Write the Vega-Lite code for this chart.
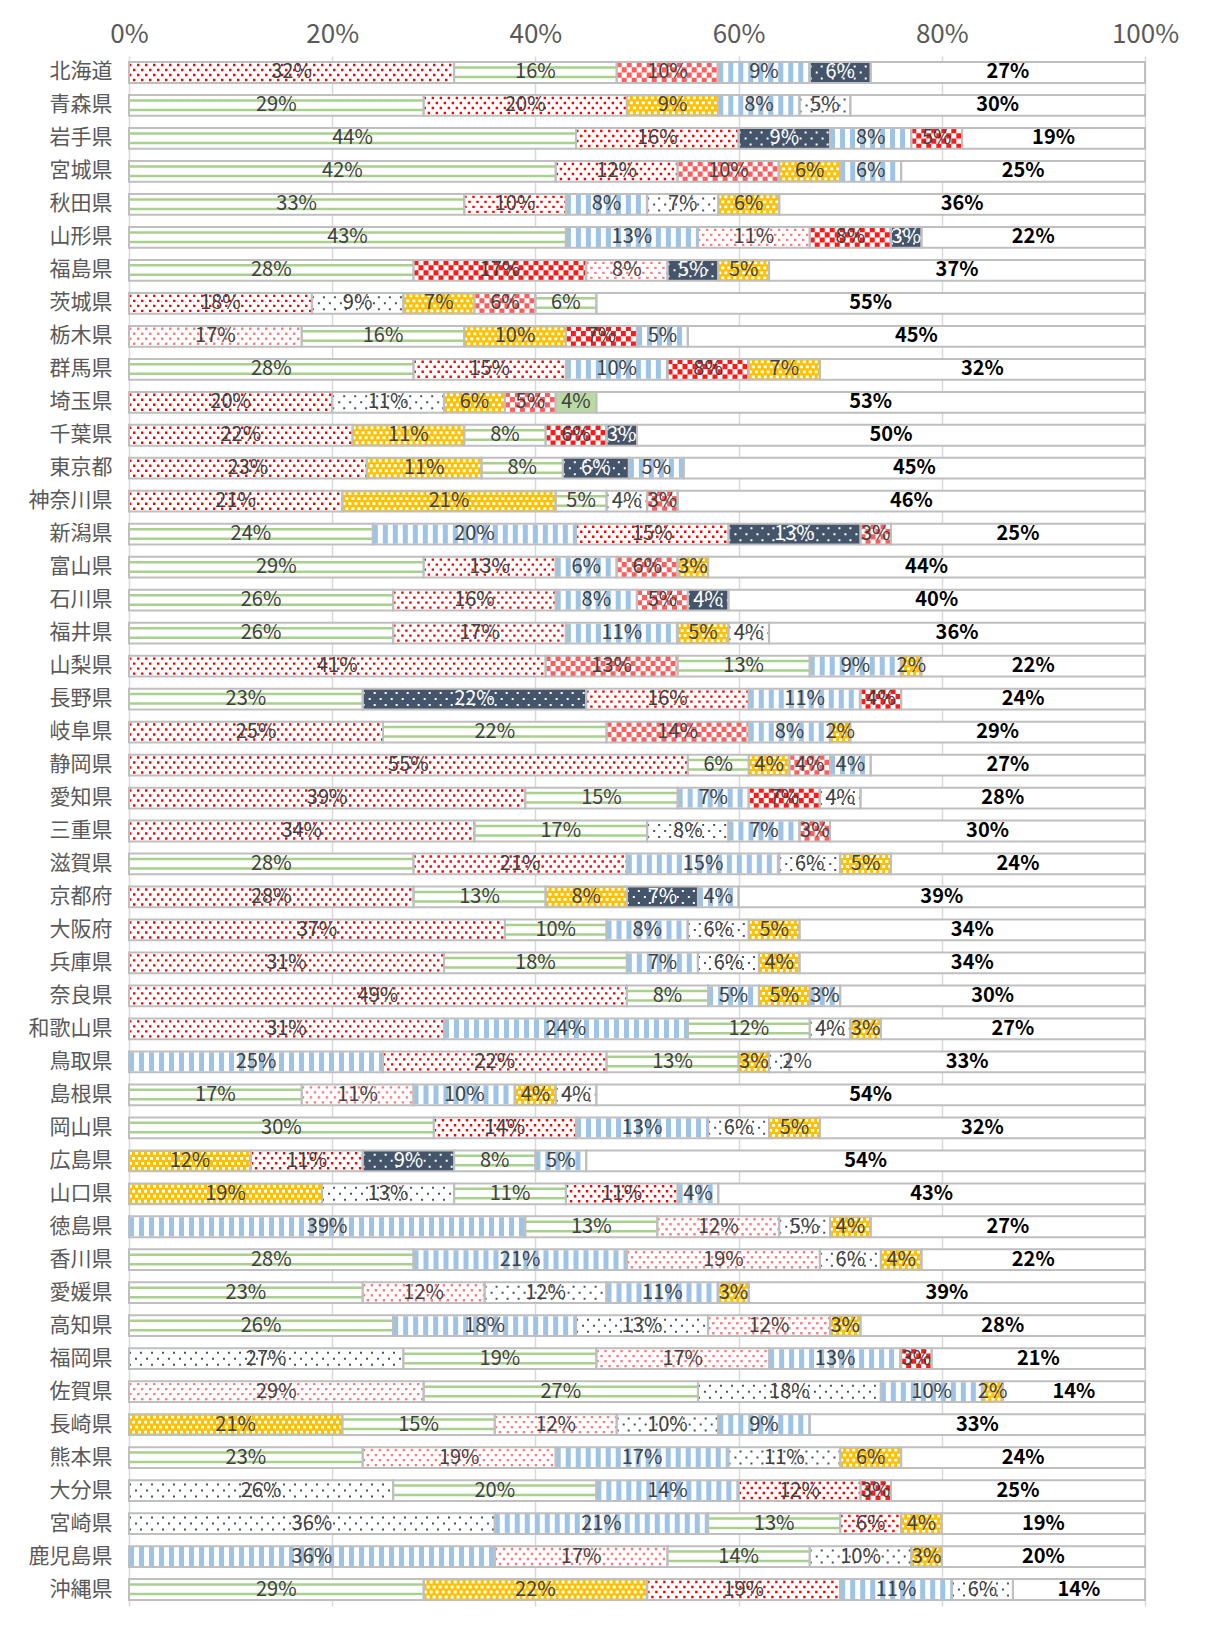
{
"$schema":"https://vega.github.io/schema/vega-lite/v6.json",
"autosize":{"type":"none"},
"padding":{"left":129,"top":56,"right":60,"bottom":23},
"width":1016,
"height":1550,
"background":"#ffffff",
"config":{"view":{"stroke":null},"font":"Noto Sans CJK JP",
 "axisX":{"grid":true,"gridColor":"#d9d9d9","gridWidth":1.5,"domain":false,"ticks":false,"labelFontSize":26,"labelColor":"#595959","labelPadding":9,"labelFlush":false,"labelFont":"Noto Sans CJK JP"},
 "axisY":{"grid":false,"domain":false,"ticks":false,"labelFontSize":21,"labelColor":"#595959","labelPadding":17,"labelFont":"Noto Sans CJK JP"}},
"data":{"values":[
{"p":"北海道","i":1,"k":"rd","v":0.32,"t":"32%"},{"p":"北海道","i":2,"k":"gs","v":0.16,"t":"16%"},{"p":"北海道","i":3,"k":"cl","v":0.10,"t":"10%"},{"p":"北海道","i":4,"k":"bs","v":0.09,"t":"9%"},{"p":"北海道","i":5,"k":"nv","v":0.06,"t":"6%"},{"p":"北海道","i":6,"k":"ot","v":0.27,"t":"27%"},
{"p":"青森県","i":1,"k":"gs","v":0.29,"t":"29%"},{"p":"青森県","i":2,"k":"rd","v":0.20,"t":"20%"},{"p":"青森県","i":3,"k":"yl","v":0.09,"t":"9%"},{"p":"青森県","i":4,"k":"bs","v":0.08,"t":"8%"},{"p":"青森県","i":5,"k":"wd","v":0.05,"t":"5%"},{"p":"青森県","i":6,"k":"ot","v":0.29,"t":"30%"},
{"p":"岩手県","i":1,"k":"gs","v":0.44,"t":"44%"},{"p":"岩手県","i":2,"k":"rd","v":0.16,"t":"16%"},{"p":"岩手県","i":3,"k":"nv","v":0.09,"t":"9%"},{"p":"岩手県","i":4,"k":"bs","v":0.08,"t":"8%"},{"p":"岩手県","i":5,"k":"ck","v":0.05,"t":"5%"},{"p":"岩手県","i":6,"k":"ot","v":0.18,"t":"19%"},
{"p":"宮城県","i":1,"k":"gs","v":0.42,"t":"42%"},{"p":"宮城県","i":2,"k":"rd","v":0.12,"t":"12%"},{"p":"宮城県","i":3,"k":"cl","v":0.10,"t":"10%"},{"p":"宮城県","i":4,"k":"yl","v":0.06,"t":"6%"},{"p":"宮城県","i":5,"k":"bs","v":0.06,"t":"6%"},{"p":"宮城県","i":6,"k":"ot","v":0.24,"t":"25%"},
{"p":"秋田県","i":1,"k":"gs","v":0.33,"t":"33%"},{"p":"秋田県","i":2,"k":"rd","v":0.10,"t":"10%"},{"p":"秋田県","i":3,"k":"bs","v":0.08,"t":"8%"},{"p":"秋田県","i":4,"k":"wd","v":0.07,"t":"7%"},{"p":"秋田県","i":5,"k":"yl","v":0.06,"t":"6%"},{"p":"秋田県","i":6,"k":"ot","v":0.36,"t":"36%"},
{"p":"山形県","i":1,"k":"gs","v":0.43,"t":"43%"},{"p":"山形県","i":2,"k":"bs","v":0.13,"t":"13%"},{"p":"山形県","i":3,"k":"rl","v":0.11,"t":"11%"},{"p":"山形県","i":4,"k":"ck","v":0.08,"t":"8%"},{"p":"山形県","i":5,"k":"nv","v":0.03,"t":"3%"},{"p":"山形県","i":6,"k":"ot","v":0.22,"t":"22%"},
{"p":"福島県","i":1,"k":"gs","v":0.28,"t":"28%"},{"p":"福島県","i":2,"k":"ck","v":0.17,"t":"17%"},{"p":"福島県","i":3,"k":"rl","v":0.08,"t":"8%"},{"p":"福島県","i":4,"k":"nv","v":0.05,"t":"5%"},{"p":"福島県","i":5,"k":"yl","v":0.05,"t":"5%"},{"p":"福島県","i":6,"k":"ot","v":0.37,"t":"37%"},
{"p":"茨城県","i":1,"k":"rd","v":0.18,"t":"18%"},{"p":"茨城県","i":2,"k":"wd","v":0.09,"t":"9%"},{"p":"茨城県","i":3,"k":"yl","v":0.07,"t":"7%"},{"p":"茨城県","i":4,"k":"cl","v":0.06,"t":"6%"},{"p":"茨城県","i":5,"k":"gs","v":0.06,"t":"6%"},{"p":"茨城県","i":6,"k":"ot","v":0.54,"t":"55%"},
{"p":"栃木県","i":1,"k":"rl","v":0.17,"t":"17%"},{"p":"栃木県","i":2,"k":"gs","v":0.16,"t":"16%"},{"p":"栃木県","i":3,"k":"yl","v":0.10,"t":"10%"},{"p":"栃木県","i":4,"k":"ck","v":0.07,"t":"7%"},{"p":"栃木県","i":5,"k":"bs","v":0.05,"t":"5%"},{"p":"栃木県","i":6,"k":"ot","v":0.45,"t":"45%"},
{"p":"群馬県","i":1,"k":"gs","v":0.28,"t":"28%"},{"p":"群馬県","i":2,"k":"rd","v":0.15,"t":"15%"},{"p":"群馬県","i":3,"k":"bs","v":0.10,"t":"10%"},{"p":"群馬県","i":4,"k":"ck","v":0.08,"t":"8%"},{"p":"群馬県","i":5,"k":"yl","v":0.07,"t":"7%"},{"p":"群馬県","i":6,"k":"ot","v":0.32,"t":"32%"},
{"p":"埼玉県","i":1,"k":"rd","v":0.20,"t":"20%"},{"p":"埼玉県","i":2,"k":"wd","v":0.11,"t":"11%"},{"p":"埼玉県","i":3,"k":"yl","v":0.06,"t":"6%"},{"p":"埼玉県","i":4,"k":"cl","v":0.05,"t":"5%"},{"p":"埼玉県","i":5,"k":"gd","v":0.04,"t":"4%"},{"p":"埼玉県","i":6,"k":"ot","v":0.54,"t":"53%"},
{"p":"千葉県","i":1,"k":"rd","v":0.22,"t":"22%"},{"p":"千葉県","i":2,"k":"yl","v":0.11,"t":"11%"},{"p":"千葉県","i":3,"k":"gs","v":0.08,"t":"8%"},{"p":"千葉県","i":4,"k":"ck","v":0.06,"t":"6%"},{"p":"千葉県","i":5,"k":"nv","v":0.03,"t":"3%"},{"p":"千葉県","i":6,"k":"ot","v":0.50,"t":"50%"},
{"p":"東京都","i":1,"k":"rd","v":0.234,"t":"23%"},{"p":"東京都","i":2,"k":"yl","v":0.113,"t":"11%"},{"p":"東京都","i":3,"k":"gs","v":0.08,"t":"8%"},{"p":"東京都","i":4,"k":"nv","v":0.065,"t":"6%"},{"p":"東京都","i":5,"k":"bs","v":0.054,"t":"5%"},{"p":"東京都","i":6,"k":"ot","v":0.454,"t":"45%"},
{"p":"神奈川県","i":1,"k":"rd","v":0.21,"t":"21%"},{"p":"神奈川県","i":2,"k":"yl","v":0.21,"t":"21%"},{"p":"神奈川県","i":3,"k":"gs","v":0.05,"t":"5%"},{"p":"神奈川県","i":4,"k":"wd","v":0.04,"t":"4%"},{"p":"神奈川県","i":5,"k":"cl","v":0.03,"t":"3%"},{"p":"神奈川県","i":6,"k":"ot","v":0.46,"t":"46%"},
{"p":"新潟県","i":1,"k":"gs","v":0.24,"t":"24%"},{"p":"新潟県","i":2,"k":"bs","v":0.20,"t":"20%"},{"p":"新潟県","i":3,"k":"rd","v":0.15,"t":"15%"},{"p":"新潟県","i":4,"k":"nv","v":0.13,"t":"13%"},{"p":"新潟県","i":5,"k":"cl","v":0.03,"t":"3%"},{"p":"新潟県","i":6,"k":"ot","v":0.25,"t":"25%"},
{"p":"富山県","i":1,"k":"gs","v":0.29,"t":"29%"},{"p":"富山県","i":2,"k":"rd","v":0.13,"t":"13%"},{"p":"富山県","i":3,"k":"bs","v":0.06,"t":"6%"},{"p":"富山県","i":4,"k":"cl","v":0.06,"t":"6%"},{"p":"富山県","i":5,"k":"yl","v":0.03,"t":"3%"},{"p":"富山県","i":6,"k":"ot","v":0.43,"t":"44%"},
{"p":"石川県","i":1,"k":"gs","v":0.26,"t":"26%"},{"p":"石川県","i":2,"k":"rd","v":0.16,"t":"16%"},{"p":"石川県","i":3,"k":"bs","v":0.08,"t":"8%"},{"p":"石川県","i":4,"k":"cl","v":0.05,"t":"5%"},{"p":"石川県","i":5,"k":"nv","v":0.04,"t":"4%"},{"p":"石川県","i":6,"k":"ot","v":0.41,"t":"40%"},
{"p":"福井県","i":1,"k":"gs","v":0.26,"t":"26%"},{"p":"福井県","i":2,"k":"rd","v":0.17,"t":"17%"},{"p":"福井県","i":3,"k":"bs","v":0.11,"t":"11%"},{"p":"福井県","i":4,"k":"yl","v":0.05,"t":"5%"},{"p":"福井県","i":5,"k":"wd","v":0.04,"t":"4%"},{"p":"福井県","i":6,"k":"ot","v":0.37,"t":"36%"},
{"p":"山梨県","i":1,"k":"rd","v":0.41,"t":"41%"},{"p":"山梨県","i":2,"k":"cl","v":0.13,"t":"13%"},{"p":"山梨県","i":3,"k":"gs","v":0.13,"t":"13%"},{"p":"山梨県","i":4,"k":"bs","v":0.09,"t":"9%"},{"p":"山梨県","i":5,"k":"yl","v":0.02,"t":"2%"},{"p":"山梨県","i":6,"k":"ot","v":0.22,"t":"22%"},
{"p":"長野県","i":1,"k":"gs","v":0.23,"t":"23%"},{"p":"長野県","i":2,"k":"nv","v":0.22,"t":"22%"},{"p":"長野県","i":3,"k":"rd","v":0.16,"t":"16%"},{"p":"長野県","i":4,"k":"bs","v":0.11,"t":"11%"},{"p":"長野県","i":5,"k":"ck","v":0.04,"t":"4%"},{"p":"長野県","i":6,"k":"ot","v":0.24,"t":"24%"},
{"p":"岐阜県","i":1,"k":"rd","v":0.25,"t":"25%"},{"p":"岐阜県","i":2,"k":"gs","v":0.22,"t":"22%"},{"p":"岐阜県","i":3,"k":"cl","v":0.14,"t":"14%"},{"p":"岐阜県","i":4,"k":"bs","v":0.08,"t":"8%"},{"p":"岐阜県","i":5,"k":"yl","v":0.02,"t":"2%"},{"p":"岐阜県","i":6,"k":"ot","v":0.29,"t":"29%"},
{"p":"静岡県","i":1,"k":"rd","v":0.55,"t":"55%"},{"p":"静岡県","i":2,"k":"gs","v":0.06,"t":"6%"},{"p":"静岡県","i":3,"k":"yl","v":0.04,"t":"4%"},{"p":"静岡県","i":4,"k":"cl","v":0.04,"t":"4%"},{"p":"静岡県","i":5,"k":"bs","v":0.04,"t":"4%"},{"p":"静岡県","i":6,"k":"ot","v":0.27,"t":"27%"},
{"p":"愛知県","i":1,"k":"rd","v":0.39,"t":"39%"},{"p":"愛知県","i":2,"k":"gs","v":0.15,"t":"15%"},{"p":"愛知県","i":3,"k":"bs","v":0.07,"t":"7%"},{"p":"愛知県","i":4,"k":"ck","v":0.07,"t":"7%"},{"p":"愛知県","i":5,"k":"wd","v":0.04,"t":"4%"},{"p":"愛知県","i":6,"k":"ot","v":0.28,"t":"28%"},
{"p":"三重県","i":1,"k":"rd","v":0.34,"t":"34%"},{"p":"三重県","i":2,"k":"gs","v":0.17,"t":"17%"},{"p":"三重県","i":3,"k":"wd","v":0.08,"t":"8%"},{"p":"三重県","i":4,"k":"bs","v":0.07,"t":"7%"},{"p":"三重県","i":5,"k":"cl","v":0.03,"t":"3%"},{"p":"三重県","i":6,"k":"ot","v":0.31,"t":"30%"},
{"p":"滋賀県","i":1,"k":"gs","v":0.28,"t":"28%"},{"p":"滋賀県","i":2,"k":"rd","v":0.21,"t":"21%"},{"p":"滋賀県","i":3,"k":"bs","v":0.15,"t":"15%"},{"p":"滋賀県","i":4,"k":"wd","v":0.06,"t":"6%"},{"p":"滋賀県","i":5,"k":"yl","v":0.05,"t":"5%"},{"p":"滋賀県","i":6,"k":"ot","v":0.25,"t":"24%"},
{"p":"京都府","i":1,"k":"rd","v":0.28,"t":"28%"},{"p":"京都府","i":2,"k":"gs","v":0.13,"t":"13%"},{"p":"京都府","i":3,"k":"yl","v":0.08,"t":"8%"},{"p":"京都府","i":4,"k":"nv","v":0.07,"t":"7%"},{"p":"京都府","i":5,"k":"bs","v":0.04,"t":"4%"},{"p":"京都府","i":6,"k":"ot","v":0.40,"t":"39%"},
{"p":"大阪府","i":1,"k":"rd","v":0.37,"t":"37%"},{"p":"大阪府","i":2,"k":"gs","v":0.10,"t":"10%"},{"p":"大阪府","i":3,"k":"bs","v":0.08,"t":"8%"},{"p":"大阪府","i":4,"k":"wd","v":0.06,"t":"6%"},{"p":"大阪府","i":5,"k":"yl","v":0.05,"t":"5%"},{"p":"大阪府","i":6,"k":"ot","v":0.34,"t":"34%"},
{"p":"兵庫県","i":1,"k":"rd","v":0.31,"t":"31%"},{"p":"兵庫県","i":2,"k":"gs","v":0.18,"t":"18%"},{"p":"兵庫県","i":3,"k":"bs","v":0.07,"t":"7%"},{"p":"兵庫県","i":4,"k":"wd","v":0.06,"t":"6%"},{"p":"兵庫県","i":5,"k":"yl","v":0.04,"t":"4%"},{"p":"兵庫県","i":6,"k":"ot","v":0.34,"t":"34%"},
{"p":"奈良県","i":1,"k":"rd","v":0.49,"t":"49%"},{"p":"奈良県","i":2,"k":"gs","v":0.08,"t":"8%"},{"p":"奈良県","i":3,"k":"bs","v":0.05,"t":"5%"},{"p":"奈良県","i":4,"k":"yl","v":0.05,"t":"5%"},{"p":"奈良県","i":5,"k":"bs","v":0.03,"t":"3%"},{"p":"奈良県","i":6,"k":"ot","v":0.30,"t":"30%"},
{"p":"和歌山県","i":1,"k":"rd","v":0.31,"t":"31%"},{"p":"和歌山県","i":2,"k":"bs","v":0.24,"t":"24%"},{"p":"和歌山県","i":3,"k":"gs","v":0.12,"t":"12%"},{"p":"和歌山県","i":4,"k":"wd","v":0.04,"t":"4%"},{"p":"和歌山県","i":5,"k":"yl","v":0.03,"t":"3%"},{"p":"和歌山県","i":6,"k":"ot","v":0.26,"t":"27%"},
{"p":"鳥取県","i":1,"k":"bs","v":0.25,"t":"25%"},{"p":"鳥取県","i":2,"k":"rd","v":0.22,"t":"22%"},{"p":"鳥取県","i":3,"k":"gs","v":0.13,"t":"13%"},{"p":"鳥取県","i":4,"k":"yl","v":0.03,"t":"3%"},{"p":"鳥取県","i":5,"k":"wd","v":0.02,"t":"2%"},{"p":"鳥取県","i":6,"k":"ot","v":0.35,"t":"33%"},
{"p":"島根県","i":1,"k":"gs","v":0.17,"t":"17%"},{"p":"島根県","i":2,"k":"rl","v":0.11,"t":"11%"},{"p":"島根県","i":3,"k":"bs","v":0.10,"t":"10%"},{"p":"島根県","i":4,"k":"yl","v":0.04,"t":"4%"},{"p":"島根県","i":5,"k":"wd","v":0.04,"t":"4%"},{"p":"島根県","i":6,"k":"ot","v":0.54,"t":"54%"},
{"p":"岡山県","i":1,"k":"gs","v":0.30,"t":"30%"},{"p":"岡山県","i":2,"k":"rd","v":0.14,"t":"14%"},{"p":"岡山県","i":3,"k":"bs","v":0.13,"t":"13%"},{"p":"岡山県","i":4,"k":"wd","v":0.06,"t":"6%"},{"p":"岡山県","i":5,"k":"yl","v":0.05,"t":"5%"},{"p":"岡山県","i":6,"k":"ot","v":0.32,"t":"32%"},
{"p":"広島県","i":1,"k":"yl","v":0.12,"t":"12%"},{"p":"広島県","i":2,"k":"rd","v":0.11,"t":"11%"},{"p":"広島県","i":3,"k":"nv","v":0.09,"t":"9%"},{"p":"広島県","i":4,"k":"gs","v":0.08,"t":"8%"},{"p":"広島県","i":5,"k":"bs","v":0.05,"t":"5%"},{"p":"広島県","i":6,"k":"ot","v":0.55,"t":"54%"},
{"p":"山口県","i":1,"k":"yl","v":0.19,"t":"19%"},{"p":"山口県","i":2,"k":"wd","v":0.13,"t":"13%"},{"p":"山口県","i":3,"k":"gs","v":0.11,"t":"11%"},{"p":"山口県","i":4,"k":"rd","v":0.11,"t":"11%"},{"p":"山口県","i":5,"k":"bs","v":0.04,"t":"4%"},{"p":"山口県","i":6,"k":"ot","v":0.42,"t":"43%"},
{"p":"徳島県","i":1,"k":"bs","v":0.39,"t":"39%"},{"p":"徳島県","i":2,"k":"gs","v":0.13,"t":"13%"},{"p":"徳島県","i":3,"k":"rl","v":0.12,"t":"12%"},{"p":"徳島県","i":4,"k":"wd","v":0.05,"t":"5%"},{"p":"徳島県","i":5,"k":"yl","v":0.04,"t":"4%"},{"p":"徳島県","i":6,"k":"ot","v":0.27,"t":"27%"},
{"p":"香川県","i":1,"k":"gs","v":0.28,"t":"28%"},{"p":"香川県","i":2,"k":"bs","v":0.21,"t":"21%"},{"p":"香川県","i":3,"k":"rl","v":0.19,"t":"19%"},{"p":"香川県","i":4,"k":"wd","v":0.06,"t":"6%"},{"p":"香川県","i":5,"k":"yl","v":0.04,"t":"4%"},{"p":"香川県","i":6,"k":"ot","v":0.22,"t":"22%"},
{"p":"愛媛県","i":1,"k":"gs","v":0.23,"t":"23%"},{"p":"愛媛県","i":2,"k":"rl","v":0.12,"t":"12%"},{"p":"愛媛県","i":3,"k":"wd","v":0.12,"t":"12%"},{"p":"愛媛県","i":4,"k":"bs","v":0.11,"t":"11%"},{"p":"愛媛県","i":5,"k":"yl","v":0.03,"t":"3%"},{"p":"愛媛県","i":6,"k":"ot","v":0.39,"t":"39%"},
{"p":"高知県","i":1,"k":"gs","v":0.26,"t":"26%"},{"p":"高知県","i":2,"k":"bs","v":0.18,"t":"18%"},{"p":"高知県","i":3,"k":"wd","v":0.13,"t":"13%"},{"p":"高知県","i":4,"k":"rl","v":0.12,"t":"12%"},{"p":"高知県","i":5,"k":"yl","v":0.03,"t":"3%"},{"p":"高知県","i":6,"k":"ot","v":0.28,"t":"28%"},
{"p":"福岡県","i":1,"k":"wd","v":0.27,"t":"27%"},{"p":"福岡県","i":2,"k":"gs","v":0.19,"t":"19%"},{"p":"福岡県","i":3,"k":"rl","v":0.17,"t":"17%"},{"p":"福岡県","i":4,"k":"bs","v":0.13,"t":"13%"},{"p":"福岡県","i":5,"k":"ck","v":0.03,"t":"3%"},{"p":"福岡県","i":6,"k":"ot","v":0.21,"t":"21%"},
{"p":"佐賀県","i":1,"k":"rl","v":0.29,"t":"29%"},{"p":"佐賀県","i":2,"k":"gs","v":0.27,"t":"27%"},{"p":"佐賀県","i":3,"k":"wd","v":0.18,"t":"18%"},{"p":"佐賀県","i":4,"k":"bs","v":0.10,"t":"10%"},{"p":"佐賀県","i":5,"k":"yl","v":0.02,"t":"2%"},{"p":"佐賀県","i":6,"k":"ot","v":0.14,"t":"14%"},
{"p":"長崎県","i":1,"k":"yl","v":0.21,"t":"21%"},{"p":"長崎県","i":2,"k":"gs","v":0.15,"t":"15%"},{"p":"長崎県","i":3,"k":"rl","v":0.12,"t":"12%"},{"p":"長崎県","i":4,"k":"wd","v":0.10,"t":"10%"},{"p":"長崎県","i":5,"k":"bs","v":0.09,"t":"9%"},{"p":"長崎県","i":6,"k":"ot","v":0.33,"t":"33%"},
{"p":"熊本県","i":1,"k":"gs","v":0.23,"t":"23%"},{"p":"熊本県","i":2,"k":"rl","v":0.19,"t":"19%"},{"p":"熊本県","i":3,"k":"bs","v":0.17,"t":"17%"},{"p":"熊本県","i":4,"k":"wd","v":0.11,"t":"11%"},{"p":"熊本県","i":5,"k":"yl","v":0.06,"t":"6%"},{"p":"熊本県","i":6,"k":"ot","v":0.24,"t":"24%"},
{"p":"大分県","i":1,"k":"wd","v":0.26,"t":"26%"},{"p":"大分県","i":2,"k":"gs","v":0.20,"t":"20%"},{"p":"大分県","i":3,"k":"bs","v":0.14,"t":"14%"},{"p":"大分県","i":4,"k":"rd","v":0.12,"t":"12%"},{"p":"大分県","i":5,"k":"ck","v":0.03,"t":"3%"},{"p":"大分県","i":6,"k":"ot","v":0.25,"t":"25%"},
{"p":"宮崎県","i":1,"k":"wd","v":0.36,"t":"36%"},{"p":"宮崎県","i":2,"k":"bs","v":0.21,"t":"21%"},{"p":"宮崎県","i":3,"k":"gs","v":0.13,"t":"13%"},{"p":"宮崎県","i":4,"k":"rd","v":0.06,"t":"6%"},{"p":"宮崎県","i":5,"k":"yl","v":0.04,"t":"4%"},{"p":"宮崎県","i":6,"k":"ot","v":0.20,"t":"19%"},
{"p":"鹿児島県","i":1,"k":"bs","v":0.36,"t":"36%"},{"p":"鹿児島県","i":2,"k":"rl","v":0.17,"t":"17%"},{"p":"鹿児島県","i":3,"k":"gs","v":0.14,"t":"14%"},{"p":"鹿児島県","i":4,"k":"wd","v":0.10,"t":"10%"},{"p":"鹿児島県","i":5,"k":"yl","v":0.03,"t":"3%"},{"p":"鹿児島県","i":6,"k":"ot","v":0.20,"t":"20%"},
{"p":"沖縄県","i":1,"k":"gs","v":0.29,"t":"29%"},{"p":"沖縄県","i":2,"k":"yl","v":0.22,"t":"22%"},{"p":"沖縄県","i":3,"k":"rd","v":0.19,"t":"19%"},{"p":"沖縄県","i":4,"k":"bs","v":0.11,"t":"11%"},{"p":"沖縄県","i":5,"k":"wd","v":0.06,"t":"6%"},{"p":"沖縄県","i":6,"k":"ot","v":0.13,"t":"14%"}
]},
"transform":[{"stack":"v","groupby":["p"],"sort":[{"field":"i","order":"ascending"}],"as":["x0","x1"]}],
"encoding":{
"y":{"field":"p","type":"nominal","sort":null,"title":null,
"scale":{"domain":["北海道","青森県","岩手県","宮城県","秋田県","山形県","福島県","茨城県","栃木県","群馬県","埼玉県","千葉県","東京都","神奈川県","新潟県","富山県","石川県","福井県","山梨県","長野県","岐阜県","静岡県","愛知県","三重県","滋賀県","京都府","大阪府","兵庫県","奈良県","和歌山県","鳥取県","島根県","岡山県","広島県","山口県","徳島県","香川県","愛媛県","高知県","福岡県","佐賀県","長崎県","熊本県","大分県","宮崎県","鹿児島県","沖縄県"],"paddingInner":0.37,"paddingOuter":0.185},
"axis":{"orient":"left"}},
"x":{"field":"x0","type":"quantitative","title":null,"scale":{"domain":[0,1]},"axis":{"orient":"top","values":[0,0.2,0.4,0.6,0.8,1],"format":".0%"}},
"x2":{"field":"x1"}
},
"layer":[
{"mark":{"type":"bar","strokeWidth":0},
 "encoding":{"color":{"field":"k","type":"nominal","legend":null,"scale":{"domain":["rd","rl","gs","ck","cl","bs","nv","wd","yl","gd","ot"],"range":["#ffffff","#ffffff","#ffffff","#ffffff","#ffffff","#ffffff","#44546a","#ffffff","#ffc000","#b9dba3","#ffffff"]}}}},
{"transform":[{"filter":"datum.k==='gs'"}],"mark":{"type":"rule","color":"#a9d18e","strokeWidth":2.5,"yOffset":-5}},
{"transform":[{"filter":"datum.k==='gs'"}],"mark":{"type":"rule","color":"#a9d18e","strokeWidth":2.5,"yOffset":4.5}},
{"transform":[{"filter":"datum.k==='bs'"}],"mark":{"type":"rule","color":"#9dc3e6","strokeWidth":19,"strokeDash":[5,5]}},
{"transform":[{"filter":"datum.k==='rd'||datum.k==='rl'"}],"mark":{"type":"rule","strokeWidth":2.4,"strokeDash":[2.4,5.6],"strokeDashOffset":0,"yOffset":-7.5},"encoding":{"color":{"condition":{"test":"datum.k==='rd'","value":"#ff0000"},"value":"#ff7c80"}}},
{"transform":[{"filter":"datum.k==='rd'||datum.k==='rl'"}],"mark":{"type":"rule","strokeWidth":2.4,"strokeDash":[2.4,5.6],"strokeDashOffset":4,"yOffset":-2.5},"encoding":{"color":{"condition":{"test":"datum.k==='rd'","value":"#ff0000"},"value":"#ff7c80"}}},
{"transform":[{"filter":"datum.k==='rd'||datum.k==='rl'"}],"mark":{"type":"rule","strokeWidth":2.4,"strokeDash":[2.4,5.6],"strokeDashOffset":0,"yOffset":2.5},"encoding":{"color":{"condition":{"test":"datum.k==='rd'","value":"#ff0000"},"value":"#ff7c80"}}},
{"transform":[{"filter":"datum.k==='rd'||datum.k==='rl'"}],"mark":{"type":"rule","strokeWidth":2.4,"strokeDash":[2.4,5.6],"strokeDashOffset":4,"yOffset":7.5},"encoding":{"color":{"condition":{"test":"datum.k==='rd'","value":"#ff0000"},"value":"#ff7c80"}}},
{"transform":[{"filter":"datum.k==='ck'||datum.k==='cl'"}],"mark":{"type":"rule","strokeWidth":5.2,"strokeDash":[5,5],"strokeDashOffset":0,"yOffset":-7.8},"encoding":{"color":{"condition":{"test":"datum.k==='ck'","value":"#ff1a1a"},"value":"#ff5e5e"}}},
{"transform":[{"filter":"datum.k==='ck'||datum.k==='cl'"}],"mark":{"type":"rule","strokeWidth":5.2,"strokeDash":[5,5],"strokeDashOffset":5,"yOffset":-2.6},"encoding":{"color":{"condition":{"test":"datum.k==='ck'","value":"#ff1a1a"},"value":"#ff5e5e"}}},
{"transform":[{"filter":"datum.k==='ck'||datum.k==='cl'"}],"mark":{"type":"rule","strokeWidth":5.2,"strokeDash":[5,5],"strokeDashOffset":0,"yOffset":2.6},"encoding":{"color":{"condition":{"test":"datum.k==='ck'","value":"#ff1a1a"},"value":"#ff5e5e"}}},
{"transform":[{"filter":"datum.k==='ck'||datum.k==='cl'"}],"mark":{"type":"rule","strokeWidth":5.2,"strokeDash":[5,5],"strokeDashOffset":5,"yOffset":7.8},"encoding":{"color":{"condition":{"test":"datum.k==='ck'","value":"#ff1a1a"},"value":"#ff5e5e"}}},
{"transform":[{"filter":"datum.k==='nv'||datum.k==='wd'"}],"mark":{"type":"rule","strokeWidth":2,"strokeDash":[2,9],"strokeDashOffset":0,"yOffset":-6},"encoding":{"color":{"condition":{"test":"datum.k==='nv'","value":"#ffffff"},"value":"#44546a"}}},
{"transform":[{"filter":"datum.k==='nv'||datum.k==='wd'"}],"mark":{"type":"rule","strokeWidth":2,"strokeDash":[2,9],"strokeDashOffset":5,"yOffset":0},"encoding":{"color":{"condition":{"test":"datum.k==='nv'","value":"#ffffff"},"value":"#44546a"}}},
{"transform":[{"filter":"datum.k==='nv'||datum.k==='wd'"}],"mark":{"type":"rule","strokeWidth":2,"strokeDash":[2,9],"strokeDashOffset":0,"yOffset":6},"encoding":{"color":{"condition":{"test":"datum.k==='nv'","value":"#ffffff"},"value":"#44546a"}}},
{"transform":[{"filter":"datum.k==='yl'"}],"mark":{"type":"rule","color":"#ffffff","strokeWidth":2.8,"strokeDash":[3,3],"strokeDashOffset":0,"yOffset":-7.5}},
{"transform":[{"filter":"datum.k==='yl'"}],"mark":{"type":"rule","color":"#ffffff","strokeWidth":2.8,"strokeDash":[3,3],"strokeDashOffset":3,"yOffset":-2.5}},
{"transform":[{"filter":"datum.k==='yl'"}],"mark":{"type":"rule","color":"#ffffff","strokeWidth":2.8,"strokeDash":[3,3],"strokeDashOffset":0,"yOffset":2.5}},
{"transform":[{"filter":"datum.k==='yl'"}],"mark":{"type":"rule","color":"#ffffff","strokeWidth":2.8,"strokeDash":[3,3],"strokeDashOffset":3,"yOffset":7.5}},
{"mark":{"type":"bar","fill":"#ffffff","fillOpacity":0,"stroke":"#bfbfbf","strokeWidth":2}},
{"transform":[{"filter":"datum.k!=='ot' && !(datum.p==='鳥取県' && datum.i===5)"},{"fold":["x0","x1"],"as":["fk","fx"]}],
 "mark":{"type":"text","fontSize":20,"font":"Noto Sans CJK JP","baseline":"middle","align":"center"},
 "encoding":{"x":{"field":"fx","aggregate":"mean","type":"quantitative","title":null,"axis":{"orient":"top","values":[0,0.2,0.4,0.6,0.8,1],"format":".0%"}},"x2":null,"detail":[{"field":"i"},{"field":"k"}],"text":{"field":"t"},
  "color":{"condition":{"test":"datum.k==='nv'","value":"#ffffff"},"value":"#404040"}}},
{"transform":[{"filter":"datum.p==='鳥取県' && datum.i===5"},{"fold":["x0","x1"],"as":["fk","fx"]}],
 "mark":{"type":"text","fontSize":20,"font":"Noto Sans CJK JP","baseline":"middle","align":"center","dx":18,"color":"#404040"},
 "encoding":{"x":{"field":"fx","aggregate":"mean","type":"quantitative","title":null,"axis":{"orient":"top","values":[0,0.2,0.4,0.6,0.8,1],"format":".0%"}},"x2":null,"detail":[{"field":"i"}],"text":{"field":"t"}}},
{"transform":[{"filter":"datum.k==='ot'"},{"fold":["x0","x1"],"as":["fk","fx"]}],
 "mark":{"type":"text","fontSize":20,"font":"Noto Sans CJK JP","fontWeight":"bold","baseline":"middle","align":"center","color":"#000000"},
 "encoding":{"x":{"field":"fx","aggregate":"mean","type":"quantitative","title":null,"axis":{"orient":"top","values":[0,0.2,0.4,0.6,0.8,1],"format":".0%"}},"x2":null,"detail":[{"field":"i"}],"text":{"field":"t"}}}
]
}
